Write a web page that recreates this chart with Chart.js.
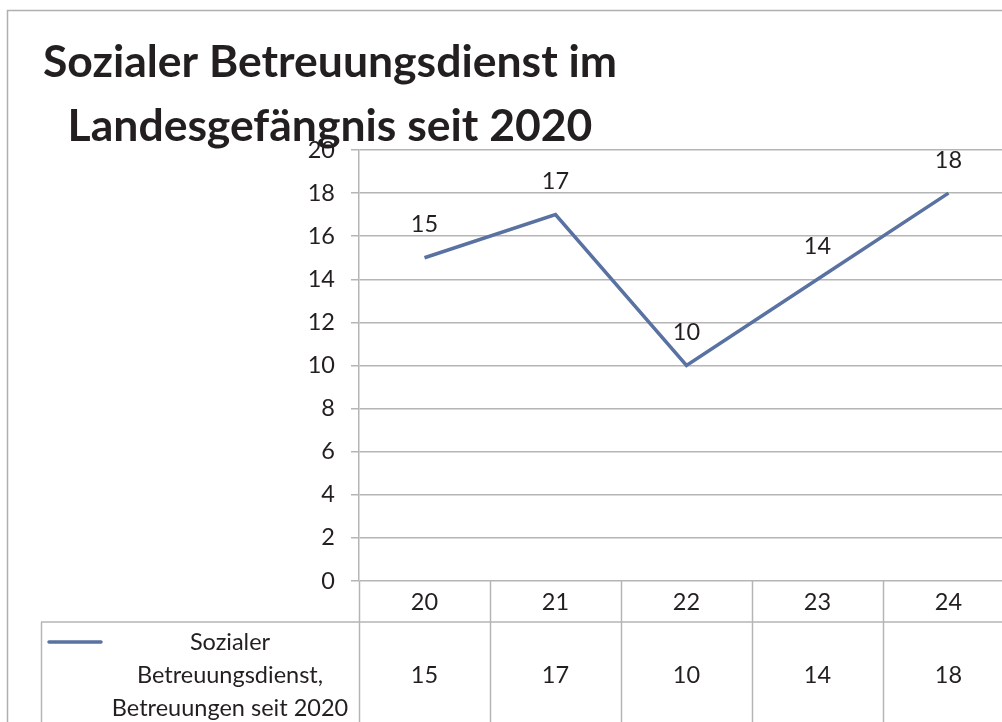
<!DOCTYPE html>
<html><head><meta charset="utf-8">
<script src="https://cdn.jsdelivr.net/npm/chart.js@4/dist/chart.umd.min.js"></script>
<style>html,body{margin:0;padding:0;overflow:hidden;background:#fff;width:1002px;height:722px}canvas{display:block}</style>
</head><body>
<canvas id="c" width="1040" height="722" style="width:1040px;height:722px"></canvas>
<script>
const titleLines = ['Sozialer Betreuungsdienst im', 'Landesgefängnis seit 2020'];
const categories = ['20', '21', '22', '23', '24'];
const values = [15, 17, 10, 14, 18];
const seriesName = 'Sozialer Betreuungsdienst, Betreuungen seit 2020';
const legendLines = ['Sozialer', 'Betreuungsdienst,', 'Betreuungen seit 2020'];
const yMin = 0, yMax = 20, yStep = 2;

const FONT = 'Lato, "Open Sans", sans-serif';
const GRID = '#b5b5b5';
const TEXT = '#231f20';
const LINE = '#5a72a1';
const FS = 23.5;

const tablePlugin = {
  id: 'tablePlugin',
  afterDraw(chart) {
    const ctx = chart.ctx;
    const x = chart.scales.x;
    const area = chart.chartArea;
    const n = categories.length;
    const step = n > 1 ? (x.getPixelForValue(1) - x.getPixelForValue(0)) : area.right - area.left;
    const row1Bottom = area.bottom + 41;
    ctx.save();
    ctx.strokeStyle = GRID;
    ctx.lineWidth = 1.5;
    for (let i = 0; i <= n; i++) {
      const px = Math.round(x.getPixelForValue(i) - step / 2) + 0.5;
      ctx.beginPath(); ctx.moveTo(px, area.bottom); ctx.lineTo(px, chart.height); ctx.stroke();
    }
    ctx.beginPath(); ctx.moveTo(41, row1Bottom); ctx.lineTo(chart.width, row1Bottom); ctx.stroke();
    ctx.beginPath(); ctx.moveTo(41.5, row1Bottom); ctx.lineTo(41.5, chart.height); ctx.stroke();
    ctx.strokeStyle = LINE; ctx.lineWidth = 3.5; ctx.lineCap = 'round';
    ctx.beginPath(); ctx.moveTo(49, row1Bottom + 20); ctx.lineTo(101, row1Bottom + 20); ctx.stroke();
    ctx.fillStyle = TEXT;
    ctx.font = FS + 'px ' + FONT;
    ctx.textAlign = 'center'; ctx.textBaseline = 'middle';
    legendLines.forEach((t, i) => ctx.fillText(t, 230, row1Bottom + 20 + i * 33));
    values.forEach((v, i) => ctx.fillText(String(v), x.getPixelForValue(i), row1Bottom + 53));
    const meta = chart.getDatasetMeta(0);
    meta.data.forEach((pt, i) => ctx.fillText(String(values[i]), pt.x, pt.y - 33));
    ctx.font = 'bold 44.5px ' + FONT;
    ctx.fillStyle = TEXT;
    titleLines.forEach((t, i) => ctx.fillText(t, 330, 63 + i * 64));
    ctx.strokeStyle = '#b0b0b0'; ctx.lineWidth = 1.5; ctx.lineCap = 'butt';
    ctx.beginPath(); ctx.moveTo(7.5, chart.height); ctx.lineTo(7.5, 10.5); ctx.lineTo(chart.width, 10.5); ctx.stroke();
    ctx.restore();
  }
};

new Chart(document.getElementById('c'), {
  type: 'line',
  data: {
    labels: categories,
    datasets: [{
      label: seriesName,
      data: values,
      borderColor: LINE,
      backgroundColor: LINE,
      borderWidth: 3.5,
      pointRadius: 0,
      tension: 0
    }]
  },
  options: {
    responsive: false,
    animation: false,
    layout: { padding: { top: 150, right: 26, bottom: 0, left: 0 } },
    plugins: { legend: { display: false }, title: { display: false }, tooltip: { enabled: false } },
    scales: {
      x: {
        offset: true,
        grid: { display: false, drawTicks: false },
        border: { display: false },
        ticks: { color: TEXT, font: { family: FONT, size: FS }, padding: 7, maxRotation: 0 },
        afterFit(s) { s.height = 141; }
      },
      y: {
        min: yMin, max: yMax,
        ticks: { stepSize: yStep, color: TEXT, font: { family: FONT, size: FS }, padding: 16 },
        grid: { color: GRID, lineWidth: 1.5, tickLength: 8 },
        border: { color: GRID, width: 1.5 },
        afterFit(s) { s.width = 359; }
      }
    }
  },
  plugins: [tablePlugin]
});
</script>
</body></html>
